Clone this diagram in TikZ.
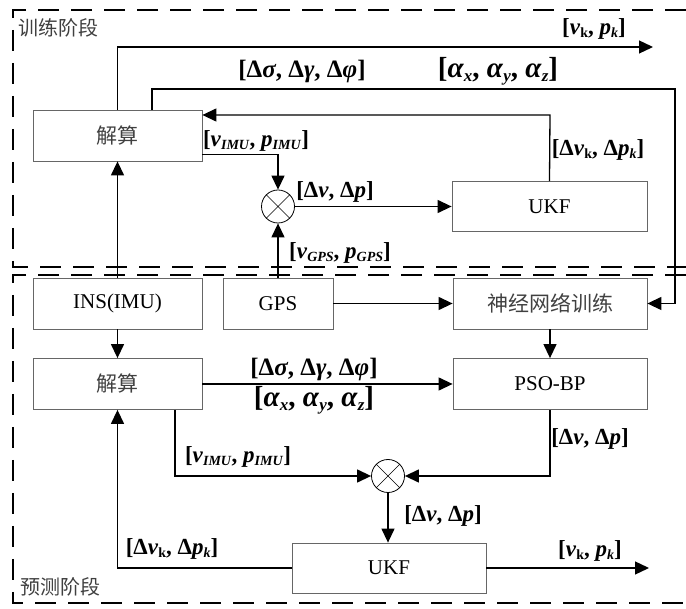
\documentclass[tikz,border=0pt]{standalone}
\usepackage{fontspec}
\setmainfont{Liberation Serif}
\newfontfamily\cjk{Noto Sans CJK SC}
\usetikzlibrary{arrows.meta}
\newcommand{\sbx}[1]{\raisebox{-0.3ex}{\fontsize{14}{14}\selectfont #1}}
\newcommand{\sbb}[1]{\raisebox{-0.3ex}{\fontsize{17}{17}\selectfont #1}}
\begin{document}
\begin{tikzpicture}[x=1pt,y=-1pt,
  box/.style={draw=black!60, line width=0.8pt, inner sep=0, minimum height=51,
    font=\fontsize{21}{21}\selectfont},
  cn/.style={box, font=\cjk\fontsize{21}{21}\selectfont, text=black!75},
  otim/.style={circle, draw=black, line width=0.8pt, minimum size=33, inner sep=0},
  arr/.style={line width=1.3pt, -{Triangle[length=14pt,width=13pt]}},
  frame/.style={line width=2.6pt, dash pattern=on 21pt off 12pt},
  lbl/.style={font=\fontsize{23}{23}\selectfont\bfseries, inner sep=0},
  lmid/.style={font=\fontsize{25}{25}\selectfont\bfseries, inner sep=0},
  lbig/.style={font=\fontsize{29}{29}\selectfont\bfseries, inner sep=0},
  stage/.style={font=\cjk\fontsize{20}{20}\selectfont, text=black!75, inner sep=0, anchor=west}
]
\useasboundingbox (0,0) rectangle (686,609);

% frames
\draw[frame] (686,10) -- (13,10) -- (13,267) -- (686,267);
\draw[frame] (686,275) -- (13,275) -- (13,603) -- (686,603);
\node[stage] (st1) at (18,28) {训练阶段};
\node[stage] (st2) at (20,587) {预测阶段};

% nodes
\node[cn, minimum width=169] (jsT) at (117.5,135.5) {解算};
\node[box, minimum width=195, minimum height=50] (ukfT) at (549.5,206.5) {UKF};
\node[otim] (oT) at (278,206.5) {};
\draw[line width=0.6pt] (oT.north east) -- (oT.south west) (oT.north west) -- (oT.south east);
\node[box, minimum width=169] (ins) at (117.5,303.5) {INS(IMU)};
\node[box, minimum width=110] (gps) at (278,303.5) {GPS};
\node[cn, minimum width=194] (nn) at (550,303.5) {神经网络训练};
\node[cn, minimum width=169] (jsB) at (117.5,384) {解算};
\node[box, minimum width=194] (pso) at (550,384) {PSO-BP};
\node[otim] (oB) at (388,476) {};
\draw[line width=0.6pt] (oB.north east) -- (oB.south west) (oB.north west) -- (oB.south east);
\node[box, minimum width=194, minimum height=50] (ukfB) at (389,568) {UKF};

% coordinates
\coordinate (outT) at (653,47);
\coordinate (c2) at (152,89);
\coordinate (rx) at (675,89);
\coordinate (c3) at (550,115);
\coordinate (c12) at (175,476);
\coordinate (outB) at (649,568);

% top connectors
\draw[arr] (jsT.north) |- (outT);
\draw[arr] (jsT.north -| c2) -- (c2) -- (rx) |- (nn.east);
\draw[arr] (ukfT.north) -- (c3) -- (c3 -| jsT.east);
\draw[arr] ([yshift=7pt]jsT.south east) -| (oT.north);
\draw[arr] (oT.east) -- (ukfT.west);
\draw[arr] (gps.north) -- (oT.south);
\draw[arr] (ins.north) -- (jsT.south);

% bottom connectors
\draw[arr] (gps.east) -- (nn.west);
\draw[arr] (ins.south) -- (jsB.north);
\draw[arr] (nn.south) -- (pso.north);
\draw[arr] (jsB.east) -- (pso.west);
\draw[arr] (jsB.south -| c12) -- (c12) -- (oB.west);
\draw[arr] (pso.south) |- (oB.east);
\draw[arr] (oB.south) -- (oB.south |- ukfB.north);
\draw[arr] (ukfB.east) -- (outB);
\draw[arr] (ukfB.west) -| (jsB.south);

% labels
\node[lbl] (l1) at (594,29) {[\textit{v}\sbx{k}, \textit{p}\sbx{\textit{k}}]};
\node[lmid] (l2) at (302,71) {[Δ\textit{σ}, Δ\textit{γ}, Δ\textit{φ}]};
\node[lbig] (l3) at (498,71) {[\textit{α}\sbb{\textit{x}}, \textit{α}\sbb{\textit{y}}, \textit{α}\sbb{\textit{z}}]};
\node[lbl] (l4) at (598,150) {[Δ\textit{v}\sbx{k}, Δ\textit{p}\sbx{\textit{k}}]};
\node[lbl] (l5) at (256,141) {[\textit{v}\sbx{\textit{IMU}}, \textit{p}\sbx{\textit{IMU}}]};
\node[lbl] (l6) at (335,192) {[Δ\textit{v}, Δ\textit{p}]};
\node[lbl] (l7) at (340,253) {[\textit{v}\sbx{\textit{GPS}}, \textit{p}\sbx{\textit{GPS}}]};
\node[lmid] (l8) at (314,369) {[Δ\textit{σ}, Δ\textit{γ}, Δ\textit{φ}]};
\node[lbig] (l9) at (314,400) {[\textit{α}\sbb{\textit{x}}, \textit{α}\sbb{\textit{y}}, \textit{α}\sbb{\textit{z}}]};
\node[lbl] (l10) at (238,457) {[\textit{v}\sbx{\textit{IMU}}, \textit{p}\sbx{\textit{IMU}}]};
\node[lbl] (l11) at (590,439) {[Δ\textit{v}, Δ\textit{p}]};
\node[lbl] (l12) at (443,516) {[Δ\textit{v}, Δ\textit{p}]};
\node[lbl] (l13) at (590,551) {[\textit{v}\sbx{k}, \textit{p}\sbx{\textit{k}}]};
\node[lbl] (l14) at (172,549) {[Δ\textit{v}\sbx{k}, Δ\textit{p}\sbx{\textit{k}}]};
\end{tikzpicture}
\end{document}
